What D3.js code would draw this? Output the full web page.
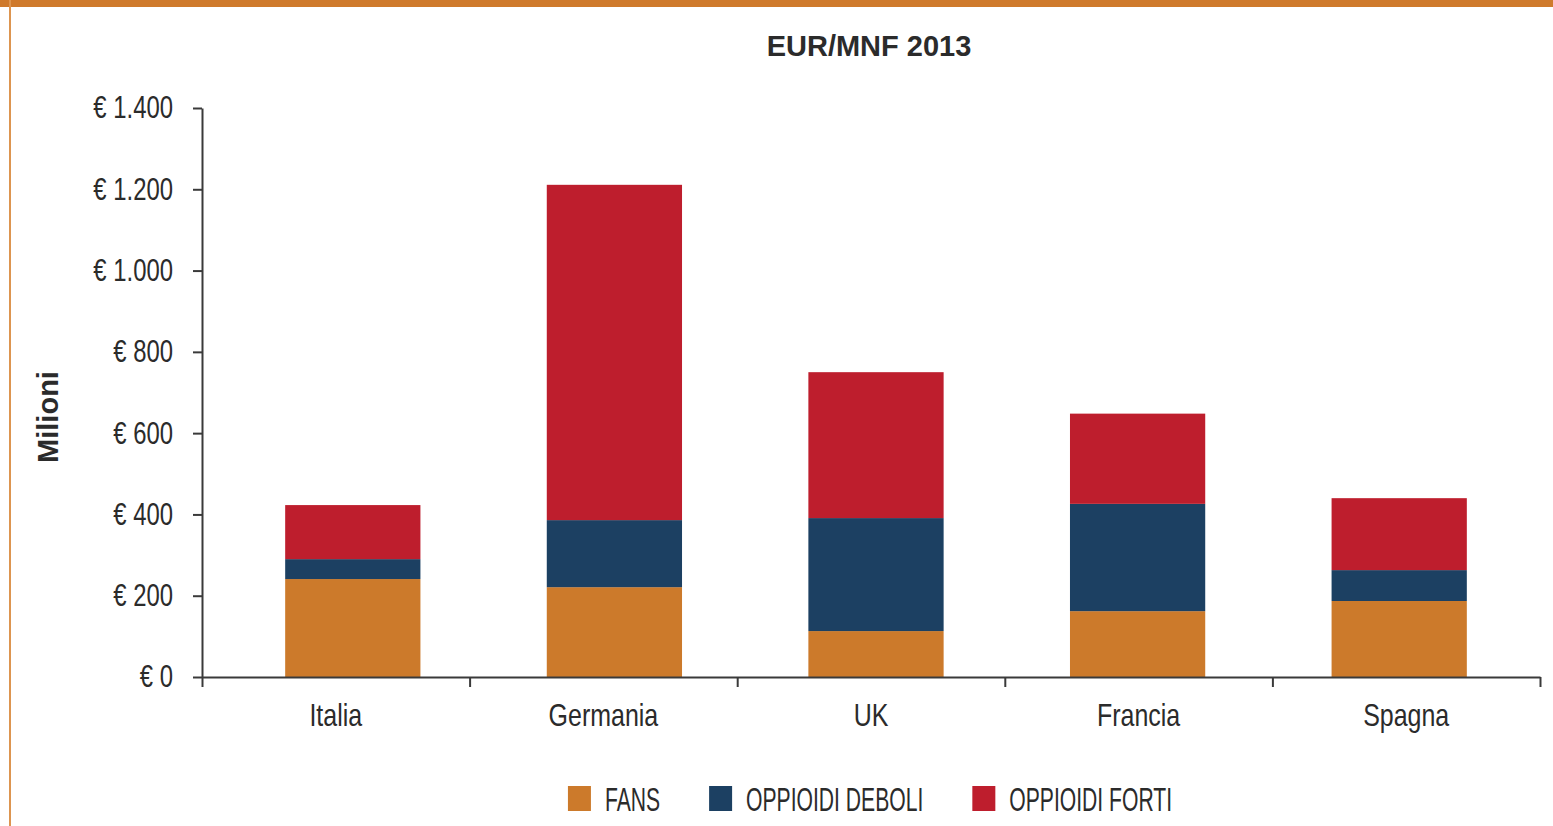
<!DOCTYPE html>
<html>
<head>
<meta charset="utf-8">
<script src="https://cdn.jsdelivr.net/npm/d3@7"></script>
<style>
  body { margin: 0; background: #fff; }
  text { fill: #2b2b2b; }
  .axis path, .axis line { stroke: #3a3a3a; stroke-width: 2; }
  .axis text { font-family: "Liberation Sans", Arial, sans-serif; font-size: 31px; fill: #2b2b2b; }
</style>
</head>
<body>
<script>
// dati (milioni di euro)
var paesi = ["Italia", "Germania", "UK", "Francia", "Spagna"];
var fans = [241, 221, 113, 162, 187];
var deboli = [49, 165, 278, 264, 76];
var forti = [133, 825, 359, 222, 177];
var serie = ["FANS", "OPPIOIDI DEBOLI", "OPPIOIDI FORTI"];
var colori = ["#cc7a2b", "#1c4062", "#be1e2d"];
var yTicks = [0, 200, 400, 600, 800, 1000, 1200, 1400];

var W = 1553, H = 826;
var svg = d3.select("body").append("svg")
    .attr("width", W).attr("height", H);

// stringe il testo in orizzontale (il font originale e' condensato)
function stringi(sel, k) {
    sel.each(function() {
        var len = this.getComputedTextLength();
        d3.select(this).attr("textLength", len * k).attr("lengthAdjust", "spacingAndGlyphs");
    });
}

// cornice arancione
svg.append("rect").attr("x", 0).attr("y", 0).attr("width", W).attr("height", 7)
    .attr("fill", "#cf7a2c");
svg.append("rect").attr("x", 9).attr("y", 0).attr("width", 2).attr("height", H)
    .attr("fill", "#dd9550");

var x0 = 202, x1 = 1540, yTop = 108, yBot = 677;

// le barre non sono centrate esattamente nelle categorie
var xScale = d3.scaleBand().domain(paesi).range([222, 1530])
    .paddingInner(0.483).paddingOuter(0.2415);
var xLab = d3.scaleBand().domain(paesi).range([x0, x1]);
var yScale = d3.scaleLinear().domain([0, 1400]).range([yBot, yTop]);

var dati = paesi.map(function(p, i) {
    return { paese: p, "FANS": fans[i], "OPPIOIDI DEBOLI": deboli[i], "OPPIOIDI FORTI": forti[i] };
});
var stack = d3.stack().keys(serie)(dati);

svg.append("g").selectAll("g")
    .data(stack).enter().append("g")
    .attr("fill", function(d, i) { return colori[i]; })
    .selectAll("rect")
    .data(function(d) { return d; }).enter().append("rect")
    .attr("x", function(d) { return xScale(d.data.paese); })
    .attr("width", xScale.bandwidth())
    .attr("y", function(d) { return yScale(d[1]); })
    .attr("height", function(d) { return yScale(d[0]) - yScale(d[1]); });

var it = d3.formatLocale({ decimal: ",", thousands: ".", grouping: [3], currency: ["€ ", ""] });
var fmt = it.format("$,");

// asse y
svg.append("g").attr("class", "y axis")
    .attr("transform", "translate(" + x0 + ",0)")
    .call(d3.axisLeft(yScale).tickValues(yTicks).tickSize(9).tickSizeOuter(0)
        .tickPadding(20).tickFormat(fmt))
    .selectAll("text").call(stringi, 0.77);

// asse x: tacche ai bordi delle categorie
var xb = d3.scaleLinear().domain([0, paesi.length]).range([x0, x1]);
svg.append("g").attr("class", "x axis")
    .attr("transform", "translate(0," + yBot + ")")
    .call(d3.axisBottom(xb).ticks(paesi.length).tickSizeInner(10).tickSizeOuter(0)
        .tickFormat(""));
svg.append("g").attr("class", "x axis labels")
    .attr("transform", "translate(0," + yBot + ")")
    .call(d3.axisBottom(xLab).tickSize(0).tickPadding(26))
    .call(function(g) { g.select(".domain").remove(); })
    .selectAll("text").style("font-size", "32px").call(stringi, 0.78);

// titolo
svg.append("text")
    .attr("x", 869).attr("y", 56)
    .attr("text-anchor", "middle")
    .style("font-family", "Liberation Sans, Arial, sans-serif")
    .style("font-weight", "bold")
    .style("font-size", "29px")
    .text("EUR/MNF 2013");

svg.append("text")
    .attr("transform", "translate(58,417) rotate(-90)")
    .attr("text-anchor", "middle")
    .style("font-family", "Liberation Sans, Arial, sans-serif")
    .style("font-weight", "bold")
    .style("font-size", "29px")
    .text("Milioni");

// legenda
var leg = svg.append("g");
var lx = 0;
serie.forEach(function(s, i) {
    var g = leg.append("g").attr("transform", "translate(" + lx + ",0)");
    g.append("rect").attr("x", 0).attr("y", 786).attr("width", 23).attr("height", 25)
        .attr("fill", colori[i]);
    var t = g.append("text")
        .attr("x", 37).attr("y", 811)
        .style("font-family", "Liberation Sans, Arial, sans-serif")
        .style("font-size", "33px")
        .text(s);
    var w = t.node().getComputedTextLength() * 0.64;
    t.attr("textLength", w).attr("lengthAdjust", "spacingAndGlyphs");
    lx += 37 + w + 49;
});
var legW = lx - 49;
leg.attr("transform", "translate(" + (870 - legW / 2) + ",0)");
</script>
</body>
</html>
